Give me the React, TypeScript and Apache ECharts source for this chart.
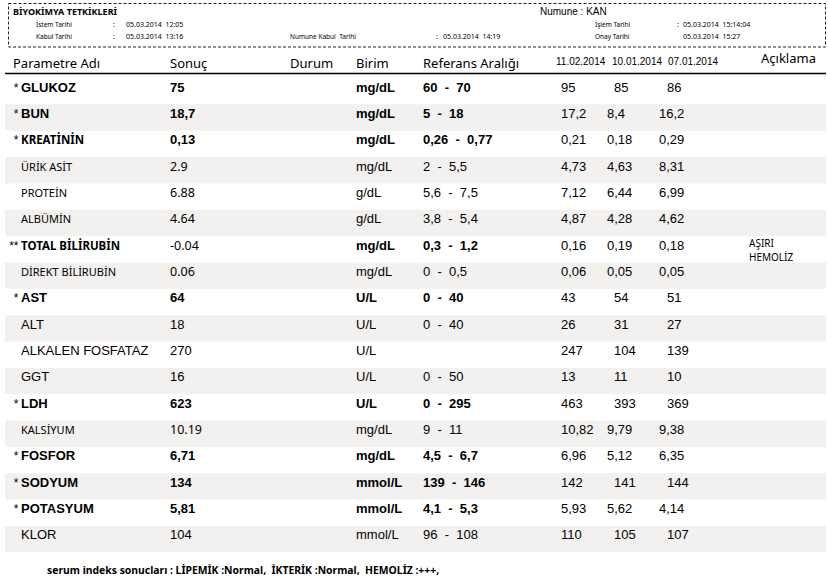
import React, { useEffect, useRef } from "react";
import * as echarts from "echarts";

// ---- data ----
const reportTitle = "BİYOKİMYA TETKİKLERİ";
const sampleType = "Numune : KAN";
const headerLabels = ["İstem Tarihi", "Kabul Tarihi", "Numune Kabul  Tarihi", "İşlem Tarihi", "Onay Tarihi"];
const headerValues = ["05.03.2014  12:05", "05.03.2014  13:16", "05.03.2014  14:19", "05.03.2014  15:14:04", "05.03.2014  15:27"];
const columnTitles = ["Parametre Adı", "Sonuç", "Durum", "Birim", "Referans Aralığı", "Açıklama"];
const historyDates = ["11.02.2014", "10.01.2014", "07.01.2014"];

const prefixes = ["*", "*", "*", "", "", "", "**", "", "*", "", "", "", "*", "", "*", "*", "*", ""];
const names = ["GLUKOZ", "BUN", "KREATİNİN", "ÜRİK ASİT", "PROTEİN", "ALBÜMİN", "TOTAL BİLİRUBİN", "DİREKT BİLİRUBİN", "AST", "ALT", "ALKALEN FOSFATAZ", "GGT", "LDH", "KALSİYUM", "FOSFOR", "SODYUM", "POTASYUM", "KLOR"];
const results = ["75", "18,7", "0,13", "2.9", "6.88", "4.64", "-0.04", "0.06", "64", "18", "270", "16", "623", "10.19", "6,71", "134", "5,81", "104"];
const units = ["mg/dL", "mg/dL", "mg/dL", "mg/dL", "g/dL", "g/dL", "mg/dL", "mg/dL", "U/L", "U/L", "U/L", "U/L", "U/L", "mg/dL", "mg/dL", "mmol/L", "mmol/L", "mmol/L"];
const refLow = ["60", "5", "0,26", "2", "5,6", "3,8", "0,3", "0", "0", "0", "", "0", "0", "9", "4,5", "139", "4,1", "96"];
const refHigh = ["70", "18", "0,77", "5,5", "7,5", "5,4", "1,2", "0,5", "40", "40", "", "50", "295", "11", "6,7", "146", "5,3", "108"];
const hist1 = ["95", "17,2", "0,21", "4,73", "7,12", "4,87", "0,16", "0,06", "43", "26", "247", "13", "463", "10,82", "6,96", "142", "5,93", "110"];
const hist2 = ["85", "8,4", "0,18", "4,63", "6,44", "4,28", "0,19", "0,05", "54", "31", "104", "11", "393", "9,79", "5,12", "141", "5,62", "105"];
const hist3 = ["86", "16,2", "0,29", "8,31", "6,99", "4,62", "0,18", "0,05", "51", "27", "139", "10", "369", "9,38", "6,35", "144", "4,14", "107"];
const notes = ["", "", "", "", "", "", "AŞIRI\nHEMOLİZ", "", "", "", "", "", "", "", "", "", "", ""];
const footerText = "serum indeks sonucları : LİPEMİK :Normal,  İKTERİK :Normal,  HEMOLİZ :+++,";

// ---- styles ----
const ARIAL = '"Liberation Sans", Arial, sans-serif';
const SANS = '"Noto Sans", "Open Sans", sans-serif';
const STRIPE = "#f3f1ef";
const ROW_H = 26.35;

function txt(text: string, x: number, y: number, size: number, family: string, weight: string = "normal", align: string = "left", extra: any = {}) {
  return {
    type: "text",
    silent: true,
    style: { text, x, y, fontSize: size, fontFamily: family, fontWeight: weight, fill: "#000", align, verticalAlign: "middle", ...extra },
  };
}

export default function App() {
  const ref = useRef<HTMLDivElement>(null);
  useEffect(() => {
    if (!ref.current) return;
    const chart = echarts.init(ref.current, undefined, { renderer: "svg" });

    const renderItem = (params: any, api: any) => {
      const i = api.value(1);
      const c = api.coord([0, i]);
      const h = api.size([0, 1])[1];
      const cs = params.coordSys;
      const top = c[1] - h / 2;
      const ty = top + 9;
      const star = prefixes[i] !== "";
      const alt = names[i].includes("İ");
      const w = star ? "bold" : "normal";
      const children: any[] = [];
      if (i % 2 === 1) {
        children.push({ type: "rect", silent: true, shape: { x: cs.x, y: top, width: cs.width, height: h }, style: { fill: STRIPE } });
      }
      if (star) children.push(txt(prefixes[i], 18.5, ty + 0.5, 12, ARIAL, "normal", "right"));
      children.push(alt ? txt(names[i], 21, ty, star ? 11.5 : 11, SANS, w) : txt(names[i], 21, ty, 13, ARIAL, w));
      const r = results[i];
      children.push(r.includes(".") ? txt(r, 170, ty, 12.5, SANS, "normal") : txt(r, 170, ty, 13, ARIAL, w));
      children.push(txt(units[i], 356, ty, 13, ARIAL, w));
      if (refLow[i] !== "") children.push(txt(refLow[i] + "\u00a0\u00a0-\u00a0\u00a0" + refHigh[i], 423, ty, 13, ARIAL, w));
      children.push(txt(hist1[i], 561, ty, 13, ARIAL));
      children.push(txt(hist2[i], hist2[i].includes(",") ? 607 : 614, ty, 13, ARIAL));
      children.push(txt(hist3[i], hist3[i].includes(",") ? 659 : 667, ty, 13, ARIAL));
      if (notes[i]) {
        const lines = notes[i].split("\n");
        lines.forEach((ln, k) => children.push(txt(ln, 749, ty - 2 + k * 14, 10, SANS)));
      }
      return { type: "group", children };
    };

    const headerEls: any[] = [
      { type: "rect", silent: true, shape: { x: 8.5, y: 3.5, width: 817, height: 43.5 }, style: { fill: "none", stroke: "#222", lineWidth: 1, lineDash: [3, 2] } },
      txt(reportTitle, 13, 11, 9, SANS, "bold"),
      txt(sampleType, 540, 11, 10, ARIAL),
      txt(headerLabels[0], 36, 24, 6.5, SANS),
      txt(":", 113, 24, 7, SANS),
      txt(headerValues[0], 126, 24, 7, SANS),
      txt(headerLabels[1], 36, 36, 6.5, SANS),
      txt(":", 113, 36, 7, SANS),
      txt(headerValues[1], 126, 36, 7, SANS),
      txt(headerLabels[2], 290, 36, 6.5, SANS),
      txt(":", 436, 36, 7, SANS),
      txt(headerValues[2], 443, 36, 7, SANS),
      txt(headerLabels[3], 595, 24, 6.5, SANS),
      txt(":", 677, 24, 7, SANS),
      txt(headerValues[3], 683, 24, 7, SANS),
      txt(headerLabels[4], 595, 36, 6.5, SANS),
      txt(headerValues[4], 683, 36, 7, SANS),
      txt(columnTitles[0], 13, 63, 13, SANS),
      txt(columnTitles[1], 170, 63, 13, SANS),
      txt(columnTitles[2], 290, 63, 13, SANS),
      txt(columnTitles[3], 356, 63, 13, SANS),
      txt(columnTitles[4], 423, 63, 13, SANS),
      txt(historyDates[0], 556, 61, 10, ARIAL),
      txt(historyDates[1], 612, 61, 10, ARIAL),
      txt(historyDates[2], 668, 61, 10, ARIAL),
      txt(columnTitles[5], 761, 58, 13, SANS),
      { type: "line", silent: true, shape: { x1: 5, y1: 73.5, x2: 826, y2: 73.5 }, style: { stroke: "#000", lineWidth: 1.5 } },
      txt(footerText, 47, 570, 10.4, SANS, "bold"),
    ];

    chart.setOption({
      animation: false,
      backgroundColor: "#fff",
      grid: { left: 5, right: 2, top: 78, height: ROW_H * names.length },
      xAxis: { type: "value", min: 0, max: 1, show: false },
      yAxis: { type: "category", data: names, inverse: true, show: false },
      series: [
        {
          type: "custom",
          renderItem,
          data: names.map((_, i) => [0, i]),
          encode: { x: 0, y: 1 },
          silent: true,
        },
      ],
      graphic: { elements: headerEls },
    });
    return () => chart.dispose();
  }, []);
  return <div ref={ref} style={{ position: "fixed", left: 0, top: 0, width: 828, height: 582 }} />;
}
